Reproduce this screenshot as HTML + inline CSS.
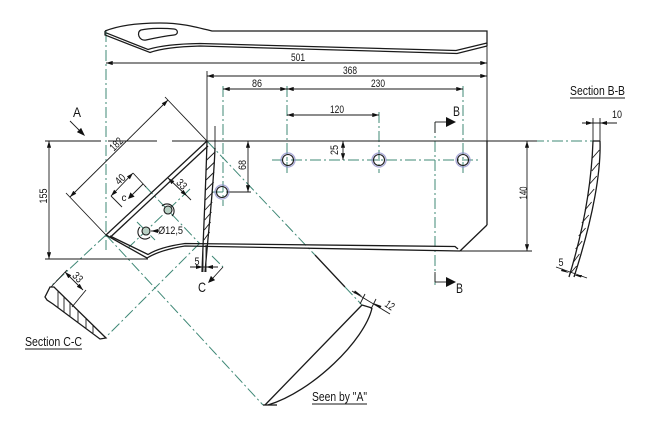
<!DOCTYPE html>
<html><head><meta charset="utf-8"><style>
html,body{margin:0;padding:0;background:#fff;}
svg{display:block}
text{font-family:"Liberation Sans",sans-serif;fill:#151515}
</style></head><body>
<svg width="651" height="437" viewBox="0 0 651 437" xmlns="http://www.w3.org/2000/svg">
<defs>
<marker id="ar" viewBox="0 0 8 5" refX="8" refY="2.5" markerWidth="7" markerHeight="4.2" orient="auto-start-reverse" markerUnits="userSpaceOnUse"><path d="M0,0 L8,2.5 L0,5 z" fill="#111"/></marker>
</defs>
<rect width="651" height="437" fill="#fff"/>

<!-- green dash-dot centre lines -->
<g stroke="#3f8876" stroke-width="1" fill="none" stroke-dasharray="11 3 2 3">
<line x1="106" y1="31" x2="106" y2="250"/>
<line x1="223" y1="86" x2="223" y2="206"/>
<line x1="287" y1="86" x2="287" y2="173"/>
<line x1="379" y1="112" x2="379" y2="173"/>
<line x1="463" y1="86" x2="463" y2="173"/>
<line x1="435" y1="122" x2="435" y2="285"/>
<line x1="272" y1="160" x2="481" y2="160"/>
<line x1="212" y1="192" x2="232" y2="192"/>
<line x1="533" y1="141" x2="593" y2="141"/>
<line x1="207" y1="141" x2="315" y2="255"/>
<line x1="345" y1="287" x2="362" y2="305"/>
<line x1="106" y1="235" x2="263" y2="405"/>
<line x1="106" y1="235" x2="50" y2="287"/>
<line x1="200" y1="243" x2="105" y2="338"/>
<line x1="190" y1="189" x2="128" y2="248"/>
<line x1="145" y1="186" x2="200" y2="244"/>
<line x1="137" y1="222" x2="155" y2="240"/>
<line x1="212" y1="256" x2="223" y2="267"/>
</g>

<!-- top bar -->
<g stroke="#1a1a1a" stroke-width="1.25" fill="none">
<path d="M105,31 C120,25 140,23 160,23 C180,23 192,26 212,31 L487,31 L487,46"/>
<path d="M105,31 L105,35 L150,52.5 Q165,47 200,46 L457,53.5 L487,46"/>
<path d="M106,32.8 L148,49.5 Q165,44 200,43.5 L456,50.5 L487,43"/>
<path d="M141,30 C150,28 165,28 174,29 C178.5,29.5 178.5,34.5 174,35 C165,36 155,38 146,40 C139,41.5 136,32 141,30 Z"/>
</g>

<!-- dimension lines with arrows -->
<g stroke="#1a1a1a" stroke-width="0.9" fill="none" marker-start="url(#ar)" marker-end="url(#ar)">
<line x1="106" y1="63" x2="487" y2="63"/>
<line x1="207" y1="76" x2="487" y2="76"/>
<line x1="223" y1="89" x2="287" y2="89"/>
<line x1="287" y1="89" x2="463" y2="89"/>
<line x1="287" y1="115" x2="379" y2="115"/>
<line x1="49" y1="141" x2="49" y2="259"/>
<line x1="70" y1="197" x2="168" y2="100"/>
<line x1="248" y1="141" x2="248" y2="192"/>
<line x1="343" y1="141" x2="343" y2="160"/>
<line x1="527" y1="141" x2="527" y2="251"/>
<line x1="111" y1="196" x2="133" y2="173"/>
<line x1="168" y1="178" x2="187" y2="196"/>
<line x1="65" y1="272" x2="83" y2="290"/>
</g>

<!-- thin black lines -->
<g stroke="#1a1a1a" stroke-width="0.9" fill="none">
<line x1="487" y1="46" x2="487" y2="141"/>
<line x1="207" y1="71" x2="207" y2="141"/>
<line x1="45" y1="141" x2="101" y2="141"/>
<line x1="108" y1="141" x2="157" y2="141"/>
<line x1="172" y1="141" x2="537" y2="141"/>
<line x1="45" y1="259" x2="148" y2="259"/>
<line x1="460" y1="251" x2="532" y2="251"/>
<line x1="228" y1="192" x2="251" y2="192"/>
<line x1="165" y1="97" x2="207" y2="141"/>
<line x1="66" y1="193" x2="106" y2="235"/>
<line x1="133" y1="173" x2="146" y2="187"/>
<line x1="111" y1="196" x2="122" y2="207"/>
<line x1="187" y1="196" x2="191" y2="200"/>
<line x1="215" y1="126" x2="215" y2="148"/>
<line x1="203" y1="245" x2="203" y2="272"/>
<line x1="206" y1="245" x2="206" y2="272"/>
<line x1="190" y1="267" x2="218" y2="267"/>
<line x1="51" y1="287" x2="67" y2="270"/>
<line x1="72" y1="307" x2="86" y2="290"/>
<line x1="151" y1="231" x2="159" y2="231"/>
<line x1="352" y1="291" x2="390" y2="314"/>
<line x1="360" y1="304" x2="365" y2="294"/>
<line x1="371" y1="309" x2="376" y2="299"/>
<line x1="593" y1="118" x2="593" y2="141"/>
<line x1="600" y1="118" x2="600" y2="141"/>
<line x1="582" y1="123" x2="617" y2="123"/>
<line x1="556" y1="267" x2="587" y2="278"/>
<line x1="70" y1="121" x2="79" y2="130"/>
<line x1="143" y1="184" x2="132.5" y2="194.5"/>
<line x1="223" y1="267" x2="213" y2="278"/>
<line x1="435" y1="122" x2="446" y2="122"/>
<line x1="435" y1="122" x2="435" y2="133"/>
<line x1="435" y1="282" x2="446" y2="282"/>
<line x1="435" y1="272" x2="435" y2="282"/>
</g>

<!-- small arrowheads -->
<g fill="#111" stroke="none">
<polygon points="85,136 81.1,127.9 76.9,132.1"/>
<polygon points="128,199 134.6,196.6 130.4,192.4"/>
<polygon points="208,283 215.1,280.1 210.9,275.9"/>
<polygon points="456,122 446,117 446,127"/>
<polygon points="456,282 446,277 446,287"/>
<polygon points="203,267 196,265 196,269"/>
<polygon points="206,267 213,265 213,269"/>
<polygon points="593,123 586,121 586,125"/>
<polygon points="600,123 607,121 607,125"/>
<polygon points="151,231 158,229 158,233"/>
<polygon points="362,296 355,290.5 353.5,293"/>
<polygon points="373,303 380,308.5 381.5,306"/>
<polygon points="569,273 562,268.5 561,271"/>
<polygon points="574,275 581,277.5 582,275"/>
</g>

<!-- main outlines -->
<g stroke="#1a1a1a" stroke-width="1.3" fill="none">
<line x1="487" y1="141" x2="487" y2="225"/>
<line x1="487" y1="225" x2="460" y2="251"/>
<path d="M106,235 L147,258 Q160,250 185,246 L460,251"/>
<path d="M110,236 L148,254.5 Q160,247 185,243.5 L455,246.5 L458,249"/>
<line x1="106" y1="235" x2="207" y2="141"/>
<line x1="110" y1="237.5" x2="208" y2="146"/>
<path d="M207,141 C206,180 204,220 202,272"/>
<path d="M215,148 C214,180 210,215 205,272"/>
<line x1="315" y1="255" x2="345" y2="287"/>
<line x1="362" y1="305" x2="265" y2="405"/>
<path d="M372,308 C365,340 312,392 268,405"/>
<line x1="362" y1="305" x2="372" y2="308"/>
<line x1="263" y1="405" x2="277" y2="405"/>
<path d="M593,141 C592,170 588,215 569,277"/>
<path d="M600,141 C601,170 594,215 574,277"/>
<line x1="593" y1="141" x2="600" y2="141"/>
<path d="M50,287 L54,287 L106,338 L100,339 L53,304 L47,300 L45,297 Z"/>
</g>

<!-- hatching -->
<g stroke="#1a1a1a" stroke-width="0.9" fill="none">
<line x1="215" y1="152" x2="206.7" y2="160"/>
<line x1="214.6" y1="162" x2="206.4" y2="170"/>
<line x1="214.2" y1="172" x2="206.1" y2="180"/>
<line x1="213.7" y1="182" x2="205.8" y2="190"/>
<line x1="213.1" y1="192" x2="205.4" y2="200"/>
<line x1="212.3" y1="202" x2="205" y2="210"/>
<line x1="211.5" y1="212" x2="204.7" y2="220"/>
<line x1="210.6" y1="222" x2="204.3" y2="230"/>
<line x1="209.6" y1="232" x2="203.9" y2="240"/>
<line x1="599.4" y1="150" x2="592.4" y2="158"/>
<line x1="598.6" y1="163" x2="591.8" y2="171"/>
<line x1="596.8" y1="176" x2="589.6" y2="184"/>
<line x1="594.2" y1="189" x2="587.3" y2="197"/>
<line x1="591.6" y1="202" x2="585" y2="210"/>
<line x1="588.8" y1="215" x2="581.8" y2="223"/>
<line x1="585.6" y1="228" x2="578.7" y2="236"/>
<line x1="582.2" y1="241" x2="575.6" y2="249"/>
<line x1="579.4" y1="254" x2="573.5" y2="262"/>
<line x1="576.6" y1="266" x2="569.7" y2="274"/>
<line x1="58" y1="291" x2="58" y2="307.5"/>
<line x1="64" y1="297" x2="64" y2="312"/>
<line x1="70" y1="303" x2="70" y2="316"/>
<line x1="78" y1="311" x2="78" y2="322"/>
<line x1="86" y1="319" x2="86" y2="328"/>
<line x1="93" y1="325.5" x2="93" y2="333"/>
</g>

<!-- holes -->
<g fill="none">
<circle cx="288" cy="160" r="7" stroke="#8484c8" stroke-width="1.3" opacity="0.7"/>
<circle cx="379" cy="160" r="7" stroke="#8484c8" stroke-width="1.3" opacity="0.7"/>
<circle cx="463" cy="160" r="7" stroke="#8484c8" stroke-width="1.3" opacity="0.7"/>
<circle cx="222" cy="192" r="7" stroke="#8484c8" stroke-width="1.3" opacity="0.7"/>
<g stroke="#1a1a1a" stroke-width="1.1">
<circle cx="288" cy="160" r="5.5"/>
<circle cx="379" cy="160" r="5.5"/>
<circle cx="463" cy="160" r="5.5"/>
<circle cx="222" cy="192" r="5.5"/>
<circle cx="168" cy="210" r="4" fill="#b8d0c4"/>
<circle cx="146" cy="231" r="4" fill="#b8d0c4"/>
<path d="M162,206 A7,7 0 1 1 172,216"/>
<path d="M140,227 A7,7 0 1 0 150,237"/>
</g>
</g>

<!-- texts -->
<g font-size="11">
<text x="298" y="61" text-anchor="middle" textLength="14" lengthAdjust="spacingAndGlyphs">501</text>
<text x="350" y="74" text-anchor="middle" textLength="14" lengthAdjust="spacingAndGlyphs">368</text>
<text x="257" y="87" text-anchor="middle" textLength="10" lengthAdjust="spacingAndGlyphs">86</text>
<text x="378" y="87" text-anchor="middle" textLength="14" lengthAdjust="spacingAndGlyphs">230</text>
<text x="337" y="113" text-anchor="middle" textLength="14" lengthAdjust="spacingAndGlyphs">120</text>
<text transform="translate(43,196) rotate(-90)" text-anchor="middle" dy="4" textLength="15" lengthAdjust="spacingAndGlyphs">155</text>
<text transform="translate(242,165) rotate(-90)" text-anchor="middle" dy="4" textLength="10" lengthAdjust="spacingAndGlyphs">68</text>
<text transform="translate(334,150) rotate(-90)" text-anchor="middle" dy="4" textLength="10" lengthAdjust="spacingAndGlyphs">25</text>
<text transform="translate(523,193) rotate(-90)" text-anchor="middle" dy="4" textLength="13" lengthAdjust="spacingAndGlyphs">140</text>
<text transform="translate(116,144) rotate(-45)" text-anchor="middle" dy="4" textLength="14" lengthAdjust="spacingAndGlyphs">182</text>
<text transform="translate(120,179) rotate(-45)" text-anchor="middle" dy="4" textLength="10" lengthAdjust="spacingAndGlyphs">40</text>
<text transform="translate(182,184) rotate(45)" text-anchor="middle" dy="4" textLength="10" lengthAdjust="spacingAndGlyphs">33</text>
<text transform="translate(78,277) rotate(45)" text-anchor="middle" dy="4" textLength="10" lengthAdjust="spacingAndGlyphs">33</text>
<text transform="translate(390,305) rotate(35)" text-anchor="middle" dy="4" textLength="9" lengthAdjust="spacingAndGlyphs">12</text>
<text x="158" y="234" textLength="25" lengthAdjust="spacingAndGlyphs">Ø12,5</text>
<text x="197" y="265" text-anchor="middle" textLength="5" lengthAdjust="spacingAndGlyphs">5</text>
<text x="561" y="266" text-anchor="middle" textLength="5" lengthAdjust="spacingAndGlyphs">5</text>
<text x="612" y="118" textLength="10" lengthAdjust="spacingAndGlyphs">10</text>
<text x="124" y="201" font-size="10" text-anchor="middle">c</text>
</g>
<g font-size="14">
<text x="77" y="117" text-anchor="middle" textLength="8" lengthAdjust="spacingAndGlyphs">A</text>
<text x="453" y="116" textLength="7" lengthAdjust="spacingAndGlyphs">B</text>
<text x="456" y="293" textLength="7" lengthAdjust="spacingAndGlyphs">B</text>
<text x="198" y="292" textLength="8" lengthAdjust="spacingAndGlyphs">C</text>
</g>
<g font-size="13">
<text x="570" y="95" textLength="55" lengthAdjust="spacingAndGlyphs">Section B-B</text>
<text x="25" y="346" textLength="57" lengthAdjust="spacingAndGlyphs">Section C-C</text>
<text x="312" y="401" textLength="55" lengthAdjust="spacingAndGlyphs">Seen by "A"</text>
</g>
<g stroke="#1a1a1a" stroke-width="0.9">
<line x1="570" y1="98" x2="625" y2="98"/>
<line x1="25" y1="349" x2="82" y2="349"/>
<line x1="312" y1="404" x2="367" y2="404"/>
</g>
</svg>
</body></html>
